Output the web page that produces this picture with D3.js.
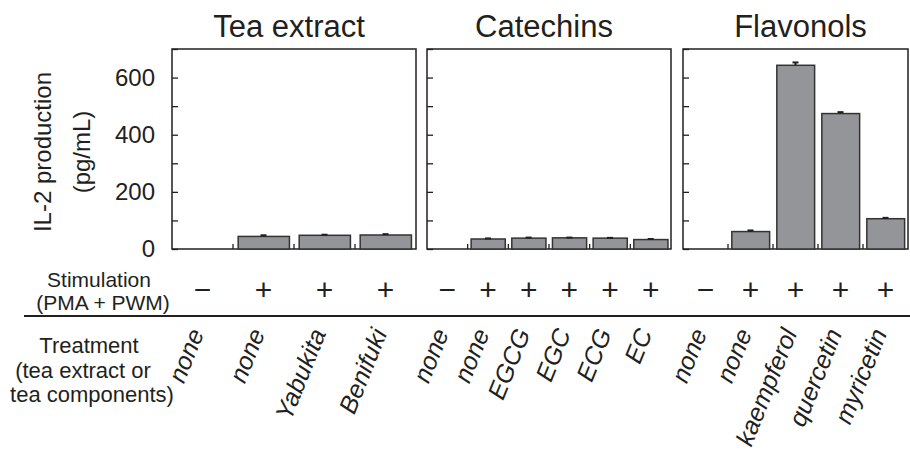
<!DOCTYPE html>
<html>
<head>
<meta charset="utf-8">
<script src="https://cdn.jsdelivr.net/npm/d3@7"></script>
<style>
  body { margin: 0; background: #fff; }
  text { font-family: "Liberation Sans", Arial, sans-serif; fill: #231f20; }
</style>
</head>
<body>
<script>
// data
const panelTitles = ["Tea extract", "Catechins", "Flavonols"];

const teaLabels = ["none", "none", "Yabukita", "Benifuki"];
const teaStim = ["−", "+", "+", "+"];
const teaValues = [0, 44, 48, 49];
const teaErrors = [0, 4, 2, 3];

const catLabels = ["none", "none", "EGCG", "EGC", "ECG", "EC"];
const catStim = ["−", "+", "+", "+", "+", "+"];
const catValues = [0, 35, 38, 39, 38, 33];
const catErrors = [0, 2, 2, 1, 1, 2];

const flaLabels = ["none", "none", "kaempferol", "quercetin", "myricetin"];
const flaStim = ["−", "+", "+", "+", "+"];
const flaValues = [0, 61, 643, 474, 106];
const flaErrors = [0, 4, 10, 5, 3];

const yTickLabels = [0, 200, 400, 600];
const yMinorTicks = [0, 100, 200, 300, 400, 500, 600, 700];

const width = 910;
const height = 455;
const plotTop = 49, plotBottom = 249;
const ink = "#231f20";

const panels = [
  {title: panelTitles[0], labels: teaLabels, stim: teaStim, values: teaValues, errors: teaErrors, x0: 172, x1: 416, tdx: -5},
  {title: panelTitles[1], labels: catLabels, stim: catStim, values: catValues, errors: catErrors, x0: 427, x1: 671, tdx: -5},
  {title: panelTitles[2], labels: flaLabels, stim: flaStim, values: flaValues, errors: flaErrors, x0: 683, x1: 908, tdx: 5}
];

const svg = d3.select("body")
    .append("svg")
    .attr("width", width)
    .attr("height", height);

const y = d3.scaleLinear()
    .domain([0, 700])
    .range([plotBottom, plotTop]);

panels.forEach(function(p, pi) {
    const idx = d3.range(p.values.length);
    const x = d3.scaleBand()
        .domain(idx)
        .range([p.x0, p.x1])
        .padding(0);
    const step = x.bandwidth();

    const g = svg.append("g");

    // frame
    g.append("rect")
        .attr("x", p.x0)
        .attr("y", plotTop)
        .attr("width", p.x1 - p.x0)
        .attr("height", plotBottom - plotTop)
        .attr("fill", "none")
        .attr("stroke", ink)
        .attr("stroke-width", 1.5);

    // inward ticks on the left edge
    const ax = g.append("g")
        .attr("transform", `translate(${p.x0},0)`)
        .call(d3.axisRight(y).tickValues(yMinorTicks).tickSize(6).tickFormat(""));
    ax.select(".domain").remove();
    ax.selectAll("line").attr("stroke", ink).attr("stroke-width", 1.3);

    // small ticks between categories
    g.selectAll(".sep")
        .data(idx.slice(1))
        .enter()
        .append("line")
        .attr("x1", d => x(d))
        .attr("x2", d => x(d))
        .attr("y1", plotBottom)
        .attr("y2", plotBottom - 5)
        .attr("stroke", ink)
        .attr("stroke-width", 1.3);

    // bars
    g.selectAll(".bar")
        .data(idx.filter(i => p.values[i] > 0))
        .enter()
        .append("rect")
        .attr("x", i => x(i) + step * 0.085)
        .attr("y", i => y(p.values[i]))
        .attr("width", step * 0.84)
        .attr("height", i => plotBottom - y(p.values[i]))
        .attr("fill", "#939598")
        .attr("stroke", "#333")
        .attr("stroke-width", 1.5);

    // error bars
    const eb = g.selectAll(".err")
        .data(idx.filter(i => p.values[i] > 0))
        .enter()
        .append("g");
    eb.append("line")
        .attr("x1", i => x(i) + step / 2)
        .attr("x2", i => x(i) + step / 2)
        .attr("y1", i => y(p.values[i]))
        .attr("y2", i => y(p.values[i] + p.errors[i]))
        .attr("stroke", ink)
        .attr("stroke-width", 2);
    eb.append("line")
        .attr("x1", i => x(i) + step / 2 - 3)
        .attr("x2", i => x(i) + step / 2 + 3)
        .attr("y1", i => y(p.values[i] + p.errors[i]))
        .attr("y2", i => y(p.values[i] + p.errors[i]))
        .attr("stroke", ink)
        .attr("stroke-width", 2);

    // title
    g.append("text")
        .attr("x", (p.x0 + p.x1) / 2 + p.tdx)
        .attr("y", 37)
        .attr("text-anchor", "middle")
        .style("font-size", "31px")
        .text(p.title);

    // stimulation row
    g.selectAll(".stim")
        .data(idx)
        .enter()
        .append("text")
        .attr("x", i => x(i) + step / 2)
        .attr("y", 300)
        .attr("text-anchor", "middle")
        .style("font-size", "30px")
        .text(i => p.stim[i]);

    // treatment labels
    g.selectAll(".lab")
        .data(idx)
        .enter()
        .append("text")
        .attr("transform", i => `translate(${x(i) + step / 2 + 2},333) rotate(-68)`)
        .attr("text-anchor", "end")
        .style("font-size", "25px")
        .style("font-style", "italic")
        .text(i => p.labels[i]);

    // y labels on the first panel only
    if (pi === 0) {
        const yl = g.append("g")
            .attr("transform", `translate(${p.x0},0)`)
            .call(d3.axisLeft(y).tickValues(yTickLabels).tickSize(0).tickPadding(17));
        yl.select(".domain").remove();
        yl.selectAll("text")
            .style("font-family", "Liberation Sans, Arial, sans-serif")
            .style("font-size", "24px")
            .attr("fill", ink);
    }
});

// y axis title
svg.append("text")
    .attr("transform", "translate(51,152) rotate(-90)")
    .attr("text-anchor", "middle")
    .style("font-size", "24px")
    .text("IL-2 production");
svg.append("text")
    .attr("transform", "translate(90,152) rotate(-90)")
    .attr("text-anchor", "middle")
    .style("font-size", "24px")
    .text("(pg/mL)");

// row headers
svg.append("text").attr("x", 99).attr("y", 287).attr("text-anchor", "middle")
    .style("font-size", "21px").text("Stimulation");
svg.append("text").attr("x", 103).attr("y", 310).attr("text-anchor", "middle")
    .style("font-size", "21px").text("(PMA + PWM)");

svg.append("line")
    .attr("x1", 24).attr("x2", width)
    .attr("y1", 316).attr("y2", 316)
    .attr("stroke", ink)
    .attr("stroke-width", 2);

svg.append("text").attr("x", 89).attr("y", 353).attr("text-anchor", "middle")
    .style("font-size", "22px").text("Treatment");
svg.append("text").attr("x", 83).attr("y", 378).attr("text-anchor", "middle")
    .style("font-size", "22px").text("(tea extract or");
svg.append("text").attr("x", 92).attr("y", 402).attr("text-anchor", "middle")
    .style("font-size", "22px").text("tea components)");
</script>
</body>
</html>
